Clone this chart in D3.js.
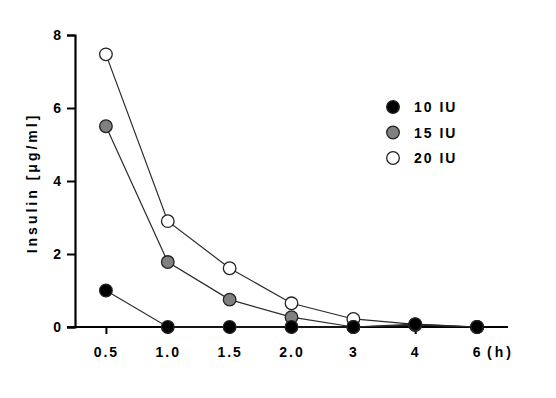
<!DOCTYPE html>
<html>
<head>
<meta charset="utf-8">
<script src="https://cdn.jsdelivr.net/npm/d3@7"></script>
<style>
  body { margin: 0; background: #fff; }
  text { font-family: "Liberation Sans", Arial, sans-serif; font-weight: bold; }
</style>
</head>
<body>
<script>
const width = 556;
const height = 398;

// time points (h) shown as categories
const times = ["0.5", "1.0", "1.5", "2.0", "3", "4", "6"];
const yTicks = [0, 2, 4, 6, 8];

// insulin (ug/ml) per dose
const iu10 = [1.0, 0, 0, 0, 0, 0.08, 0];
const iu15 = [5.5, 1.78, 0.75, 0.27, 0, 0.05, 0];
const iu20 = [7.47, 2.9, 1.61, 0.65, 0.22, 0.07, 0];

const seriesNames = ["10 IU", "15 IU", "20 IU"];
const seriesFill = ["#000000", "#808080", "#ffffff"];

const svg = d3.select("body").append("svg")
    .attr("width", width)
    .attr("height", height);

const x = d3.scalePoint()
    .domain(times)
    .range([75, 508])
    .padding(0.5);

const y = d3.scaleLinear()
    .domain([0, 8])
    .range([327, 35]);

//Y axis
const yAxis = svg.append("g")
    .attr("transform", "translate(75,0)")
    .call(d3.axisLeft(y).tickValues(yTicks).tickSize(8).tickPadding(6));
yAxis.select(".domain").attr("stroke", "#000").attr("stroke-width", 2.2);
yAxis.selectAll(".tick line").attr("stroke-width", 2);
yAxis.selectAll(".tick text")
    .style("font-size", "14px")
    .attr("fill", "#000");

//X axis
const xAxis = svg.append("g")
    .attr("transform", "translate(0,327)")
    .call(d3.axisBottom(x).tickSize(7).tickPadding(13));
xAxis.select(".domain")
    .attr("d", "M67,0H508")
    .attr("stroke", "#000")
    .attr("stroke-width", 2.2);
xAxis.selectAll(".tick line").attr("stroke-width", 2);
xAxis.selectAll(".tick text")
    .style("font-size", "14px")
    .style("letter-spacing", "2px")
    .attr("fill", "#000");

svg.append("text")
    .attr("x", x("6") + 10)
    .attr("y", 357)
    .text("(h)")
    .style("font-size", "14px")
    .style("letter-spacing", "3px");

//Y label
svg.append("text")
    .attr("transform", "translate(37,183) rotate(-90)")
    .attr("text-anchor", "middle")
    .text("Insulin [μg/ml]")
    .style("font-size", "14px")
    .style("letter-spacing", "3px");

const line = d3.line()
    .x((d, i) => x(times[i]))
    .y(d => y(d));

const allSeries = [iu20, iu15, iu10];
const allFill = [seriesFill[2], seriesFill[1], seriesFill[0]];

allSeries.forEach((vals, k) => {
    svg.append("path")
        .datum(vals)
        .attr("d", line)
        .attr("fill", "none")
        .attr("stroke", "#2a2a2a")
        .attr("stroke-width", 1.2);
});

allSeries.forEach((vals, k) => {
    svg.selectAll(null)
        .data(vals)
        .enter().append("circle")
        .attr("cx", (d, i) => x(times[i]))
        .attr("cy", d => y(d))
        .attr("r", 6.3)
        .attr("fill", allFill[k])
        .attr("stroke", "#222")
        .attr("stroke-width", 1.3);
});

//Legend
const legend = svg.append("g");
seriesNames.forEach((name, i) => {
    legend.append("circle")
        .attr("cx", 393)
        .attr("cy", 107 + i * 25.5)
        .attr("r", 6.3)
        .attr("fill", seriesFill[i])
        .attr("stroke", "#222")
        .attr("stroke-width", 1.3);
    legend.append("text")
        .attr("x", 414)
        .attr("y", 112 + i * 25.5)
        .text(name)
        .style("font-size", "14px")
        .style("letter-spacing", "2px");
});
</script>
</body>
</html>
